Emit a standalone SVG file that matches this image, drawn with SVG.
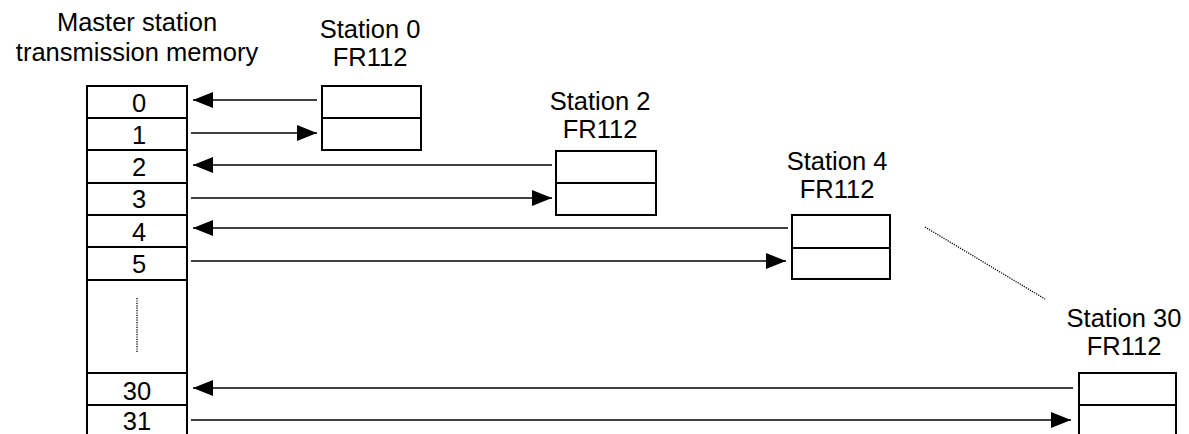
<svg xmlns="http://www.w3.org/2000/svg" width="1189" height="434" viewBox="0 0 1189 434">
<style>
text{font-family:"Liberation Sans",Arial,sans-serif;font-size:25.5px;fill:#000;text-anchor:middle}
.box{fill:#fff;stroke:#000;stroke-width:2}
.div{stroke:#000;stroke-width:2}
.arr{stroke:#000;stroke-width:1.7;fill:none;marker-end:url(#ah)}
.dot{stroke:#000;stroke-width:1.3;stroke-dasharray:1.2 1.2;fill:none}
</style>
<defs>
<marker id="ah" viewBox="0 0 20 16" refX="20" refY="8" markerWidth="20" markerHeight="16" markerUnits="userSpaceOnUse" orient="auto">
<path d="M0,0 L20,8 L0,16 z" fill="#000"/>
</marker>
</defs>
<g id="memory">
<text x="137" y="31">Master station</text>
<text x="137" y="61">transmission memory</text>
<rect class="box" x="87" y="86" width="100" height="360"/>
<line class="div" x1="87" y1="118" x2="187" y2="118"/>
<line class="div" x1="87" y1="150" x2="187" y2="150"/>
<line class="div" x1="87" y1="183" x2="187" y2="183"/>
<line class="div" x1="87" y1="215" x2="187" y2="215"/>
<line class="div" x1="87" y1="247" x2="187" y2="247"/>
<line class="div" x1="87" y1="280" x2="187" y2="280"/>
<line class="div" x1="87" y1="373" x2="187" y2="373"/>
<line class="div" x1="87" y1="405" x2="187" y2="405"/>
<text x="139" y="112">0</text>
<text x="139" y="144">1</text>
<text x="139" y="176">2</text>
<text x="139" y="208">3</text>
<text x="139" y="241">4</text>
<text x="139" y="273">5</text>
<line class="dot" x1="137" y1="298" x2="137" y2="353"/>
<text x="137" y="400">30</text>
<text x="137" y="430">31</text>
</g>
<g id="station0">
<text x="370" y="38">Station 0</text>
<text x="370" y="66">FR112</text>
<rect class="box" x="322" y="86" width="99" height="64"/>
<line class="div" x1="322" y1="118" x2="421" y2="118"/>
</g>
<g id="station2">
<text x="600" y="110">Station 2</text>
<text x="600" y="138">FR112</text>
<rect class="box" x="556" y="151" width="100" height="64"/>
<line class="div" x1="556" y1="183" x2="656" y2="183"/>
</g>
<g id="station4">
<text x="837" y="170">Station 4</text>
<text x="837" y="198">FR112</text>
<rect class="box" x="792" y="215" width="98" height="64"/>
<line class="div" x1="792" y1="248" x2="890" y2="248"/>
</g>
<g id="station30">
<text x="1124" y="327">Station 30</text>
<text x="1124" y="355">FR112</text>
<rect class="box" x="1079" y="373" width="97" height="80"/>
<line class="div" x1="1079" y1="405" x2="1176" y2="405"/>
</g>
<g id="connectors">
<line class="arr" x1="317" y1="100" x2="193" y2="100"/>
<line class="arr" x1="191" y1="133" x2="317" y2="133"/>
<line class="arr" x1="552" y1="165" x2="193" y2="165"/>
<line class="arr" x1="191" y1="198" x2="552" y2="198"/>
<line class="arr" x1="788" y1="228" x2="193" y2="228"/>
<line class="arr" x1="191" y1="261" x2="786" y2="261"/>
<line class="arr" x1="1073" y1="388" x2="193" y2="388"/>
<line class="arr" x1="191" y1="420" x2="1071" y2="420"/>
<line class="dot" x1="925" y1="227" x2="1045" y2="299"/>
</g>
</svg>
